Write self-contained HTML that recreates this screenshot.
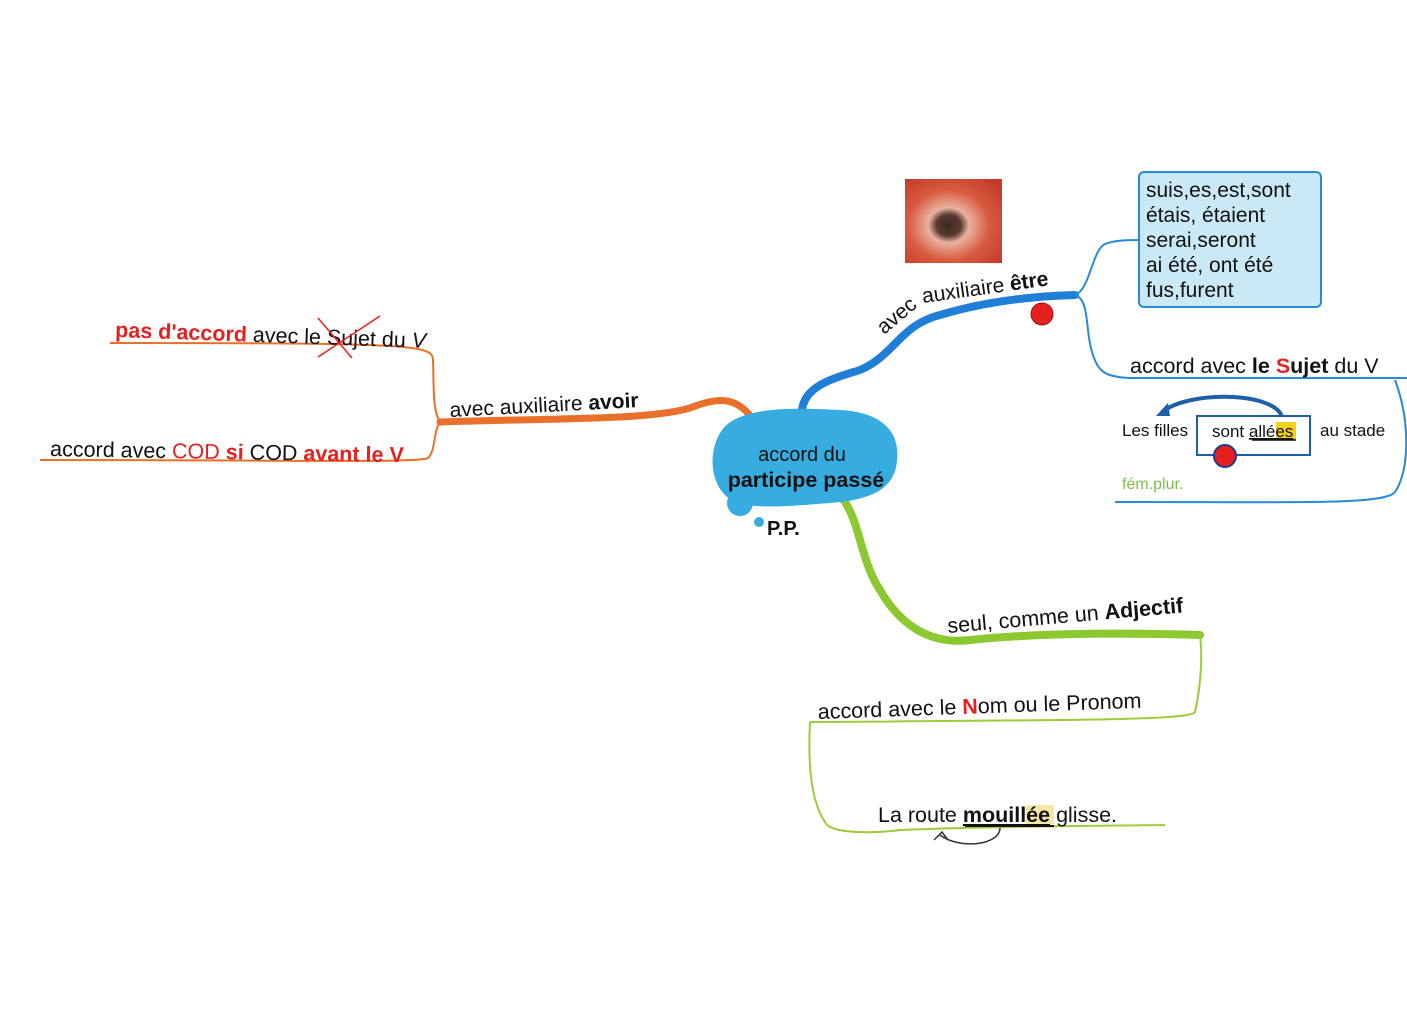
<!DOCTYPE html>
<html><head><meta charset="utf-8"><style>
body{margin:0;background:#fff;}
svg{display:block;font-family:"Liberation Sans",sans-serif;}
</style></head><body>
<svg width="1407" height="1023" viewBox="0 0 1407 1023" xmlns="http://www.w3.org/2000/svg">
<defs>
<radialGradient id="eye" cx="0.45" cy="0.55" r="0.7">
<stop offset="0" stop-color="#3a2a22"/><stop offset="0.18" stop-color="#5a3a30"/><stop offset="0.3" stop-color="#e9b2a0"/><stop offset="0.6" stop-color="#d85a40"/><stop offset="1" stop-color="#c23a28"/>
</radialGradient>
</defs>
<!-- orange branch -->
<path d="M752 418 C735 395 715 398 690 408 C650 420 560 418 440 422" fill="none" stroke="#e8702a" stroke-width="7" stroke-linecap="round"/>
<path d="M440 422 C432 410 434 380 433 360 C432 345 420 343 110 343" fill="none" stroke="#e8702a" stroke-width="2"/>
<path d="M440 422 C433 432 436 450 428 458 C420 463 300 460 40 460" fill="none" stroke="#e8702a" stroke-width="2"/>
<!-- blue branch -->
<path d="M802 410 C805 385 835 378 860 370 C895 355 900 325 940 315 C990 300 1040 296 1075 295" fill="none" stroke="#1f7fd8" stroke-width="8" stroke-linecap="round"/>
<path d="M1075 295 C1090 290 1092 250 1105 244 C1115 240 1130 240 1140 240" fill="none" stroke="#2a8ad8" stroke-width="2"/>
<path d="M1075 295 C1090 300 1085 330 1092 352 C1098 372 1105 377 1130 378 L1407 378" fill="none" stroke="#2a8ad8" stroke-width="2"/>
<path d="M1395 380 C1410 420 1410 470 1395 492 C1385 505 1300 502 1115 502" fill="none" stroke="#2a8ad8" stroke-width="2"/>
<!-- green branch -->
<path d="M842 498 C860 520 860 560 880 590 C900 625 930 645 970 640 C1050 632 1130 633 1200 635" fill="none" stroke="#8cc830" stroke-width="8" stroke-linecap="round"/>
<path d="M1200 635 C1203 660 1200 690 1195 712 C1190 720 1100 720 810 722" fill="none" stroke="#9ccc3a" stroke-width="2"/>
<path d="M810 722 C808 760 810 800 825 822 C830 835 880 833 900 830 C1000 826 1100 826 1165 825" fill="none" stroke="#9ccc3a" stroke-width="2"/>
<!-- central blob -->
<path d="M722 430 C740 405 800 408 840 410 C880 412 900 430 897 460 C895 490 870 500 830 503 C790 506 740 512 725 495 C710 480 708 450 722 430Z" fill="#36ace0"/>
<circle cx="740" cy="503" r="13" fill="#36ace0"/>
<circle cx="759" cy="522" r="5" fill="#36ace0"/>
<text x="802" y="461" font-size="20" text-anchor="middle" fill="#111">accord du</text>
<text x="806" y="487" font-size="21.5" font-weight="bold" text-anchor="middle" fill="#111">participe passé</text>
<text x="767" y="535" font-size="20" font-weight="bold" fill="#111">P.P.</text>
<!-- eye image -->
<rect x="905" y="179" width="97" height="84" fill="url(#eye)"/>
<!-- left texts -->
<text x="450" y="417" font-size="21" fill="#111" transform="rotate(-3 450 417)">avec auxiliaire <tspan font-weight="bold">avoir</tspan></text>
<text x="115" y="337" font-size="21.5" fill="#111" transform="rotate(2 115 337)"><tspan fill="#e52020" font-weight="bold">pas d'accord</tspan> avec le Sujet du <tspan font-style="italic">V</tspan></text>
<path d="M318 318 L352 358 M318 357 L380 316" stroke="#e52020" stroke-width="1.5" fill="none"/>
<text x="50" y="456" font-size="21.5" fill="#111" transform="rotate(1 50 456)">accord avec <tspan fill="#e52020">COD</tspan> <tspan fill="#e52020" font-weight="bold">si</tspan> COD <tspan fill="#e52020" font-weight="bold">avant le V</tspan></text>
<!-- blue texts -->
<text x="884" y="335" font-size="21" fill="#111" transform="rotate(-40 884 335)">avec</text>
<text x="923" y="303" font-size="21" fill="#111" transform="rotate(-8 923 303)">auxiliaire <tspan font-weight="bold">être</tspan></text>
<circle cx="1042" cy="314" r="11" fill="#e52020" stroke="#a01010"/>
<rect x="1139" y="172" width="182" height="135" rx="5" fill="#c9e9f6" stroke="#2a8ad8" stroke-width="2"/>
<g font-size="21" fill="#111">
<text x="1146" y="197">suis,es,est,sont</text>
<text x="1146" y="222">étais, étaient</text>
<text x="1146" y="247">serai,seront</text>
<text x="1146" y="272">ai été, ont été</text>
<text x="1146" y="297">fus,furent</text>
</g>
<text x="1130" y="373" font-size="21.5" fill="#111">accord avec <tspan font-weight="bold">le</tspan> <tspan font-weight="bold" fill="#e52020">S</tspan><tspan font-weight="bold">ujet</tspan> du V</text>
<path d="M1282 417 C1275 392 1190 390 1162 412" fill="none" stroke="#1f5fa8" stroke-width="4"/>
<path d="M1156 416 L1168 403 L1170 416Z" fill="#1f5fa8"/>
<rect x="1197" y="416" width="113" height="39" fill="#fff" stroke="#1f5fa8" stroke-width="2"/>
<rect x="1276" y="422" width="20" height="18" fill="#f2d020"/>
<text x="1122" y="436" font-size="17" fill="#111">Les filles</text>
<text x="1212" y="437" font-size="17" fill="#111">sont <tspan text-decoration="underline">allées</tspan></text>
<line x1="1252" y1="440" x2="1296" y2="440" stroke="#111" stroke-width="1.5"/>
<text x="1320" y="436" font-size="17" fill="#111">au stade</text>
<circle cx="1225" cy="456" r="11" fill="#e52020" stroke="#1f3f88" stroke-width="2"/>
<text x="1122" y="489" font-size="16" fill="#7cc04a">fém.plur.</text>
<!-- green texts -->
<text x="948" y="633" font-size="21.5" fill="#111" transform="rotate(-5 948 633)">seul, comme un <tspan font-weight="bold">Adjectif</tspan></text>
<text x="818" y="719" font-size="21.5" fill="#111" transform="rotate(-2 818 719)">accord avec le <tspan fill="#e52020" font-weight="bold">N</tspan>om ou le Pronom</text>
<rect x="1026" y="805" width="28" height="19" fill="#f3e6a8"/>
<text x="878" y="822" font-size="21.5" fill="#111">La route <tspan font-weight="bold" text-decoration="underline">mouillée</tspan> glisse.</text>
<line x1="965" y1="826" x2="1054" y2="826" stroke="#111" stroke-width="2"/>
<path d="M1000 828 C1000 845 960 850 940 835 M934 840 L942 832 L948 840" fill="none" stroke="#333" stroke-width="1.5"/>
</svg>
</body></html>
